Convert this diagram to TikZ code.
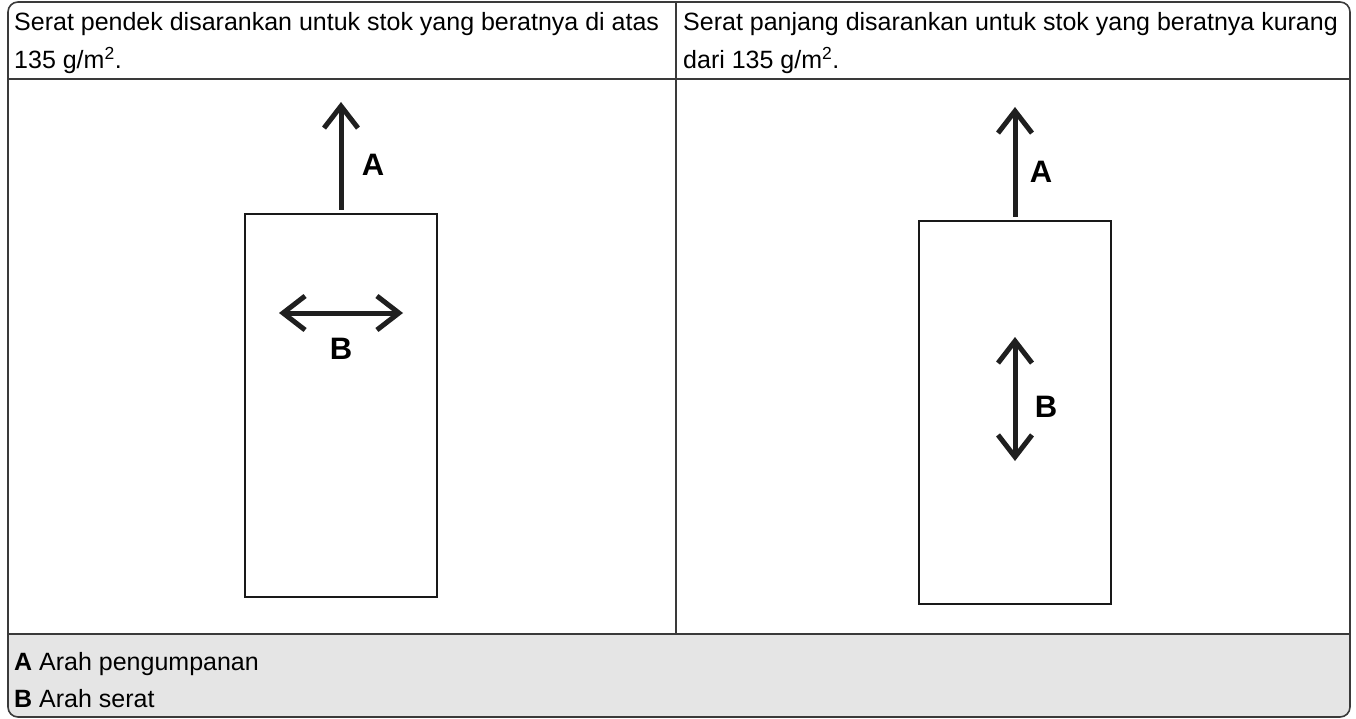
\documentclass[tikz,border=0pt]{standalone}
\usepackage{fontspec}
\setmainfont{Liberation Sans}
\usetikzlibrary{arrows.meta}
\definecolor{legendgray}{HTML}{E5E5E5}
\definecolor{framegray}{HTML}{3A3A3A}
\begin{document}
\begin{tikzpicture}[x=1pt,y=-1pt,
 txt/.style={anchor=base west, inner sep=0pt, font=\fontsize{25}{30}\selectfont},
 lbl/.style={inner sep=0pt, font=\fontsize{31}{32}\selectfont\bfseries},
 sheet/.style={draw=black!90, line width=2.2pt, minimum width=192pt, minimum height=383pt, inner sep=0pt},
 feed/.style={draw=black!88, line width=5pt, -{Straight Barb[length=22pt,width=34pt]}},
 grain/.style={draw=black!88, line width=5pt, {Straight Barb[length=22pt,width=34pt]}-{Straight Barb[length=22pt,width=34pt]}},
 rule/.style={draw=framegray, line width=1.2pt},
]
\useasboundingbox (0,0) rectangle (1356,719);
% legend background
\fill[legendgray] (8,634) [rounded corners=10pt] -- (8,717) -- (1350,717) [sharp corners] -- (1350,634) -- cycle;
% table rules
\draw[rule] (8,79) -- (1350,79);
\draw[rule] (8,634) -- (1350,634);
\draw[rule] (676,2) -- (676,634);
\draw[framegray, line width=1.6pt, rounded corners=10pt] (8,2) rectangle (1350,717);

% header texts
\node[txt] (hl1) at (14,31) {Serat pendek disarankan untuk stok yang beratnya di atas};
\node[txt] (hl2) at (14,69) {135 g/m\textsuperscript{2}.};
\node[txt] (hr1) at (683,31) {Serat panjang disarankan untuk stok yang beratnya kurang};
\node[txt] (hr2) at (683,69) {dari 135 g/m\textsuperscript{2}.};

% left panel
\node[sheet] (lrect) at (341,405.5) {};
\coordinate (ltipA) at (341,102);
\draw[feed] ([yshift=3pt]lrect.north) -- (ltipA);
\node[lbl] (lA) at (373,165) {A};
\coordinate (lB1) at (279,313);
\coordinate (lB2) at (403,313);
\draw[grain] (lB1) -- (lB2);
\node[lbl] (lB) at (341,349) {B};

% right panel
\node[sheet] (rrect) at (1015,412.5) {};
\coordinate (rtipA) at (1015,107);
\draw[feed] ([yshift=3pt]rrect.north) -- (rtipA);
\node[lbl] (rA) at (1041,172) {A};
\coordinate (rB1) at (1015,337);
\coordinate (rB2) at (1015,461);
\draw[grain] (rB1) -- (rB2);
\node[lbl] (rB) at (1046,407) {B};

% legend
\node[txt] (legA) at (14,670) {\textbf{A} Arah pengumpanan};
\node[txt] (legB) at (14,707) {\textbf{B} Arah serat};
\end{tikzpicture}
\end{document}
